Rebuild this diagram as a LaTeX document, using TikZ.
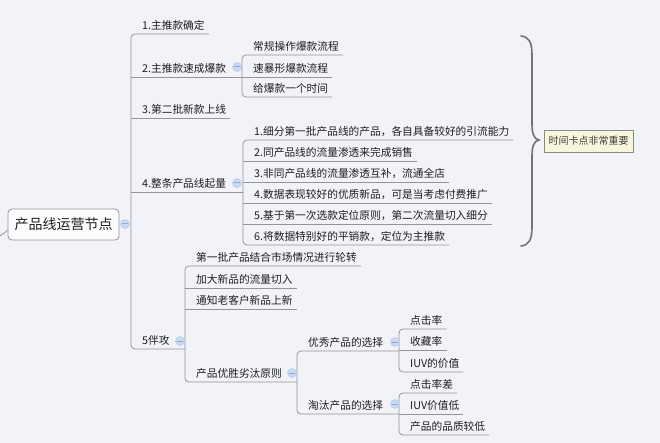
\documentclass[tikz,border=0pt]{standalone}
\usepackage{fontspec}
\setmainfont{Noto Sans CJK SC}
\usetikzlibrary{calc}
\definecolor{bgc}{HTML}{F1F3F9}
\definecolor{linec}{HTML}{959595}
\definecolor{txtc}{HTML}{1E1E1E}
\definecolor{circfill}{HTML}{C9D9F2}
\definecolor{circdraw}{HTML}{B3C8EA}
\definecolor{minusc}{HTML}{8EA9DB}
\definecolor{bracec}{HTML}{737373}
\definecolor{notefill}{HTML}{F7F6DC}
\definecolor{notedraw}{HTML}{8C8C80}
\definecolor{rootfill}{HTML}{FBFCFE}
\tikzset{
  topic/.style={anchor=south west, inner ysep=0pt, inner xsep=0pt,
    text height=9pt, text depth=4.5pt, text=txtc,
    font=\fontsize{10.7}{12}\selectfont,
    execute at begin node=\hspace{11pt},
    execute at end node=\hspace{4pt}},
  conn/.style={draw=linec, line width=0.8pt, rounded corners=4pt},
  collapse/.style={circle, fill=circfill, draw=circdraw, line width=0.5pt,
    minimum size=9pt, inner sep=0pt,
    path picture={\draw[minusc, line width=1pt]
      ([xshift=-2.6pt]path picture bounding box.center) --
      ([xshift=2.6pt]path picture bounding box.center);}},
  rootbox/.style={draw=linec, line width=0.8pt, fill=rootfill, rounded corners=4pt,
    minimum width=111pt, minimum height=31pt, inner sep=0pt, text=txtc,
    font=\fontsize{14}{16}\selectfont},
  notebox/.style={draw=notedraw, line width=0.6pt, fill=notefill,
    minimum width=89pt, minimum height=22pt, inner sep=0pt, text=black!75,
    font=\fontsize{10}{12}\selectfont},
  bracestyle/.style={draw=bracec, line width=1.6pt, line cap=round}
}
\begin{document}
\begin{tikzpicture}[x=1pt, y=-1pt]
\fill[bgc] (0,0) rectangle (660,443);
\useasboundingbox (0,0) rectangle (660,443);

% root
\node[rootbox] (root) at (63.5,224.5) {产品线运营节点};
\coordinate (rootin) at (0,236);

% level 1
\node[topic] (t1) at (131,34) {1.主推款确定};
\node[topic] (t2) at (131,77) {2.主推款速成爆款};
\node[topic] (t3) at (131,118) {3.第二批新款上线};
\node[topic] (t4) at (131,192) {4.整条产品线起量};
\node[topic] (t5) at (131,349) {5伴攻};

% item 2 children
\node[topic] (c21) at (242,55) {常规操作爆款流程};
\node[topic] (c22) at (242,77) {速暴形爆款流程};
\node[topic] (c23) at (242,97) {给爆款一个时间};

% item 4 children
\node[topic] (c41) at (243,140) {1.细分第一批产品线的产品，各自具备较好的引流能力};
\node[topic] (c42) at (243,161.5) {2.同产品线的流量渗透来完成销售};
\node[topic] (c43) at (243,182) {3.非同产品线的流量渗透互补，流通全店};
\node[topic] (c44) at (243,203) {4.数据表现较好的优质新品，可是当考虑付费推广};
\node[topic] (c45) at (243,224) {5.基于第一次选款定位原则，第二次流量切入细分};
\node[topic] (c46) at (243,245) {6.将数据特别好的平销款，定位为主推款};

% item 5 children
\node[topic] (c5a) at (185,266) {第一批产品结合市场情况进行轮转};
\node[topic] (c5b) at (185,288) {加大新品的流量切入};
\node[topic] (c5c) at (185,309) {通知老客户新品上新};
\node[topic] (c5d) at (185,382) {产品优胜劣汰原则};

\node[topic] (e1) at (297,351) {优秀产品的选择};
\node[topic] (e2) at (297,414) {淘汰产品的选择};

\node[topic] (f11) at (399,329) {点击率};
\node[topic] (f12) at (399,350) {收藏率};
\node[topic] (f13) at (399,372) {IUV的价值};

\node[topic] (f21) at (399,393) {点击率差};
\node[topic] (f22) at (399,414) {IUV价值低};
\node[topic] (f23) at (399,435) {产品的品质较低};

% connectors / underlines
\draw[conn] (rootin) -- ($(root.south west)+(0,-10)$);

\draw[conn] (t1.south east) -- (t1.south west) -- (t5.south west) -- (t5.south -| c5a.south west);
\draw[conn] (t2.south west) -- (t2.south -| c21.south west);
\draw[conn] (t3.south west) -- (t3.south east);
\draw[conn] (t4.south west) -- (t4.south -| c41.south west);

\draw[conn] (c21.south east) -- (c21.south west) -- (c23.south west) -- (c23.south east);
\draw[conn] (c22.south west) -- (c22.south east);

\draw[conn] (c41.south east) -- (c41.south west) -- (c46.south west) -- (c46.south east);
\draw[conn] (c42.south west) -- (c42.south east);
\draw[conn] (c43.south west) -- (c43.south east);
\draw[conn] (c44.south west) -- (c44.south east);
\draw[conn] (c45.south west) -- (c45.south east);

\draw[conn] (c5a.south east) -- (c5a.south west) -- (c5d.south west) -- (c5d.south -| e1.south west);
\draw[conn] (c5b.south west) -- (c5b.south east);
\draw[conn] (c5c.south west) -- (c5c.south east);

\draw[conn] (e1.south -| f11.south west) -- (e1.south west) -- (e2.south west) -- (e2.south -| f21.south west);

\draw[conn] (f11.south east) -- (f11.south west) -- (f13.south west) -- (f13.south east);
\draw[conn] (f12.south west) -- (f12.south east);
\draw[conn] (f21.south east) -- (f21.south west) -- (f23.south west) -- (f23.south east);
\draw[conn] (f22.south west) -- (f22.south east);

% collapse markers
\node[collapse] (k0) at (125,224) {};
\node[collapse] (k2) at (237,67) {};
\node[collapse] (k4) at (237,183) {};
\node[collapse] (k5) at (180,341) {};
\node[collapse] (k5d) at (292,373) {};
\node[collapse] (ke1) at (395,342) {};
\node[collapse] (ke2) at (395,404) {};

% brace and note
\draw[bracestyle] (521,36) .. controls (529,37) and (532,42) .. (532,55)
  -- (532,124) .. controls (532,134) and (534,139) .. (539,140)
  .. controls (534,141) and (532,146) .. (532,156)
  -- (532,227) .. controls (532,240) and (529,245) .. (521,246);
\node[notebox] (note) at (588.5,141) {时间卡点非常重要};
\end{tikzpicture}
\end{document}
